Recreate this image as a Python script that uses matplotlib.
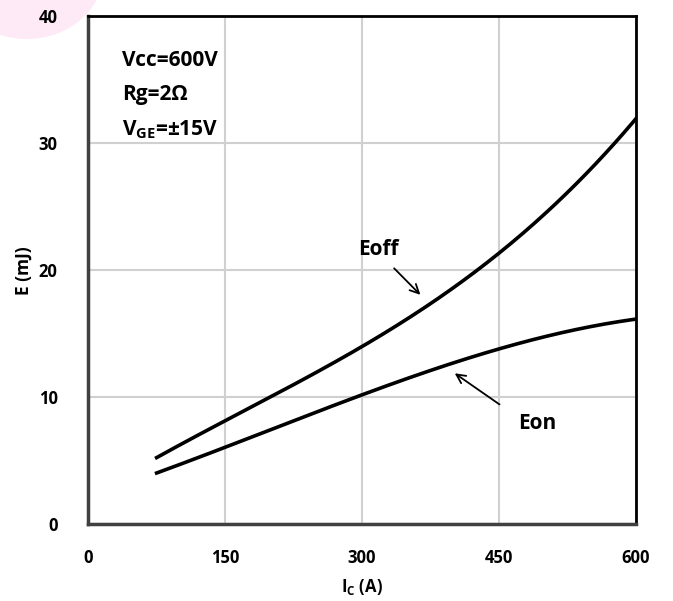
import numpy as np
import matplotlib
matplotlib.use("Agg")
import matplotlib.pyplot as plt
from matplotlib.patches import Circle

ic = [75, 150, 225, 300, 375, 450, 525, 600]
eoff = [5.2, 8.2, 11.0, 13.9, 17.4, 21.3, 26.2, 31.9]
eon = [4.1, 5.9, 8.1, 10.3, 12.2, 13.7, 15.1, 16.2]

xticks = [0, 150, 300, 450, 600]
yticks = [0, 10, 20, 30, 40]

plt.rcParams['font.family'] = ['Open Sans', 'DejaVu Sans']
plt.rcParams['font.weight'] = 'bold'

fig = plt.figure(figsize=(6.73, 6.01), dpi=100)
# faint pink blob in the top-left corner of the original
fig.patches.append(Circle((0.04, 1.05), 0.115, transform=fig.transFigure,
                          facecolor='#fdeaf6', edgecolor='none', zorder=-5))
ax = fig.add_axes([0.131, 0.128, 0.814, 0.845])

# smooth the read points
xs = np.linspace(75, 600, 200)
ax.plot(xs, np.polyval(np.polyfit(ic, eoff, 3), xs), color='black', lw=2.6, zorder=3)
ax.plot(xs, np.polyval(np.polyfit(ic, eon, 3), xs), color='black', lw=2.6, zorder=3)

ax.set_xlim(0, 600)
ax.set_ylim(0, 40)
ax.set_xticks(xticks)
ax.set_yticks(yticks)
ax.grid(True, color='#d0d0d0', lw=1.5)
ax.set_axisbelow(True)
ax.tick_params(length=0, labelsize=12)
ax.tick_params(axis='x', pad=18)
ax.tick_params(axis='y', pad=22)
for s in ['top', 'right']:
    ax.spines[s].set_linewidth(2)
for s in ['left', 'bottom']:
    ax.spines[s].set_linewidth(2.5)
    ax.spines[s].set_color('#404040')

ax.set_xlabel('I$_\\mathregular{C}$ (A)', fontsize=12, fontweight='bold', labelpad=7)
ax.set_ylabel('E (mJ)', fontsize=12.5, fontweight='bold', labelpad=4)

ax.text(37, 36.5, 'Vcc=600V', fontsize=15, fontweight='bold', va='center')
ax.text(37, 33.8, 'Rg=2Ω', fontsize=15, fontweight='bold', va='center')
ax.text(37, 31.1, 'V$_\\mathregular{GE}$=±15V', fontsize=15, fontweight='bold', va='center')

ax.annotate('', xy=(366, 17.9), xytext=(333, 20.3),
            arrowprops=dict(arrowstyle='->', color='black', lw=1.3, mutation_scale=16))
ax.text(318, 21.6, 'Eoff', fontsize=15, fontweight='bold', ha='center', va='center')
ax.annotate('', xy=(399, 12.0), xytext=(453, 9.3),
            arrowprops=dict(arrowstyle='->', color='black', lw=1.3, mutation_scale=16))
ax.text(492, 7.95, 'Eon', fontsize=15, fontweight='bold', ha='center', va='center')

fig.savefig('out.png', dpi=100)
